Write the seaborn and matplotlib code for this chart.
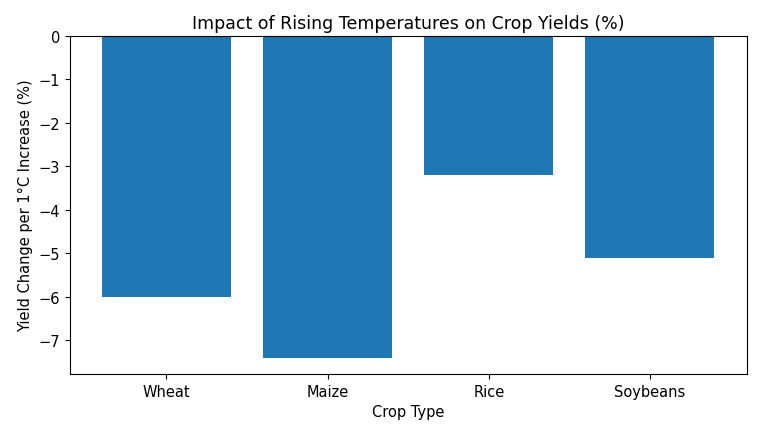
import matplotlib
matplotlib.use("Agg")
import matplotlib.pyplot as plt
import seaborn as sns
import pandas as pd

# Data
crops = ["Wheat", "Maize", "Rice", "Soybeans"]
yield_change = [-6.0, -7.4, -3.2, -5.1]

df = pd.DataFrame({"Crop": crops, "Change": yield_change})

fig, ax = plt.subplots(figsize=(7.58, 4.35), dpi=100)

sns.barplot(
    data=df,
    x="Crop",
    y="Change",
    color="#1f77b4",
    saturation=1,
    width=0.8,
    ax=ax,
)

ax.set_xlim(-0.6, 3.6)
ax.set_ylim(top=0)
ax.set_title("Impact of Rising Temperatures on Crop Yields (%)", fontsize=12.5)
ax.set_xlabel("Crop Type", fontsize=10.5)
ax.set_ylabel("Yield Change per 1°C Increase (%)", fontsize=10.5)
ax.tick_params(labelsize=10.5)

fig.subplots_adjust(left=0.092, right=0.985, top=0.915, bottom=0.138)
plt.savefig("out.png", dpi=100)
